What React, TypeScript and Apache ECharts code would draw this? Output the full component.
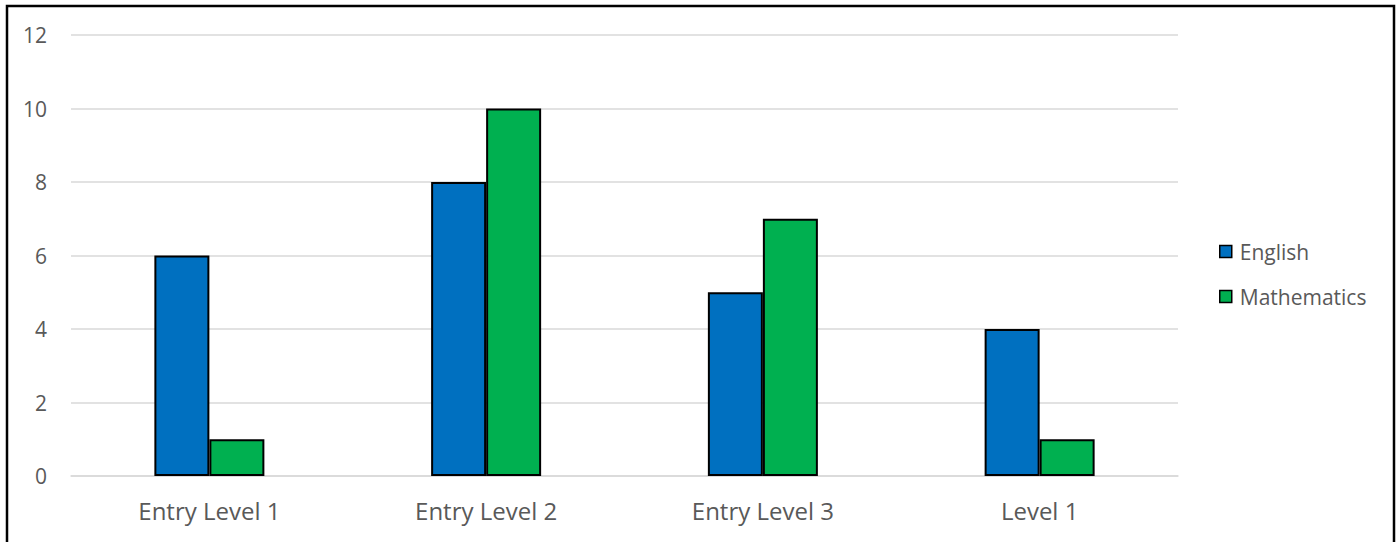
import React, { useEffect, useRef } from "react";
import * as echarts from "echarts";

const categories = ["Entry Level 1", "Entry Level 2", "Entry Level 3", "Level 1"];
const english = [6, 8, 5, 4];
const mathematics = [1, 10, 7, 1];
const seriesNames = ["English", "Mathematics"];
const colors = ["#0070C0", "#00B050"];

export default function App() {
  const ref = useRef<HTMLDivElement>(null);
  useEffect(() => {
    const chart = echarts.init(ref.current!, null, { renderer: "svg" });
    const font = "'Open Sans', 'Noto Sans', sans-serif";
    chart.setOption({
      animation: false,
      backgroundColor: "#ffffff",
      textStyle: { fontFamily: font },
      grid: { left: 71, right: 220, top: 35, bottom: 66, containLabel: false },
      legend: {
        orient: "vertical",
        left: 1219,
        top: 241,
        padding: 0,
        itemWidth: 12,
        itemHeight: 12,
        itemGap: 24,
        icon: "rect",
        data: seriesNames,
        textStyle: { color: "#595959", fontSize: 21, fontFamily: font, padding: [0, 0, 0, 3] },
        itemStyle: { borderColor: "#000", borderWidth: 1.5 },
      },
      xAxis: {
        type: "category",
        data: categories,
        axisLine: { lineStyle: { color: "#d9d9d9", width: 1.5 } },
        axisTick: { show: false },
        axisLabel: { color: "#595959", fontSize: 24, margin: 22, fontFamily: font },
      },
      yAxis: {
        type: "value",
        min: 0,
        max: 12,
        interval: 2,
        axisLine: { show: false },
        axisTick: { show: false },
        axisLabel: { color: "#595959", fontSize: 21, margin: 24, fontFamily: font },
        splitLine: { lineStyle: { color: "#d9d9d9", width: 1.5 } },
      },
      series: [
        {
          name: seriesNames[0],
          type: "bar",
          data: english,
          barWidth: 55,
          barGap: "0%",
          itemStyle: { color: colors[0], borderColor: "#000", borderWidth: 2 },
        },
        {
          name: seriesNames[1],
          type: "bar",
          data: mathematics,
          barWidth: 55,
          barGap: "0%",
          itemStyle: { color: colors[1], borderColor: "#000", borderWidth: 2 },
        },
      ],
      graphic: [
        {
          type: "rect",
          shape: { x: 7, y: 6, width: 1387, height: 560 },
          style: { fill: "none", stroke: "#000", lineWidth: 2.5 },
          silent: true,
          z: 100,
        },
      ],
    });
    return () => chart.dispose();
  }, []);
  return (
    <div
      ref={ref}
      style={{ position: "absolute", left: 0, top: 0, width: 1398, height: 542 }}
    />
  );
}
